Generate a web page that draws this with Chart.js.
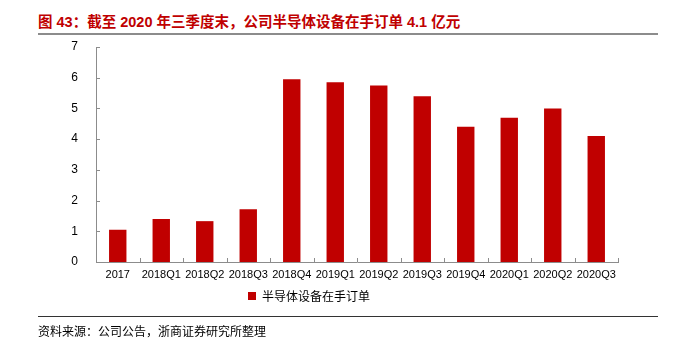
<!DOCTYPE html>
<html>
<head>
  <meta name="viewport" content="width=device-width, initial-scale=1.0">
  <title>半导体设备在手订单</title>
  <script src="https://cdn.jsdelivr.net/npm/chart.js"></script>
  <style>
    body {
      margin: 0;
      width: 674px;
      height: 352px;
      position: relative;
      background: white;
      overflow: hidden;
    }
    #title {
      position: absolute;
      left: 38px;
      top: 10px;
      font-family: "Liberation Sans", "Noto Sans CJK SC", sans-serif;
      font-weight: bold;
      font-size: 14.5px;
      color: #C00000;
    }
    #topline {
      position: absolute;
      left: 38px;
      width: 620px;
      top: 33px;
      height: 2px;
      background: #8c8c8c;
    }
    #bottomline {
      position: absolute;
      left: 38px;
      width: 620px;
      top: 316px;
      height: 1px;
      background: #333;
    }
    #source {
      position: absolute;
      left: 38px;
      top: 322px;
      font-family: "Noto Sans CJK SC", sans-serif;
      font-size: 12px;
      color: #000;
    }
    #wrap {
      position: absolute;
      left: 0;
      top: 0;
      width: 674px;
      height: 318px;
    }
  </style>
</head>
<body>
  <div id="title">图 43：截至 2020 年三季度末，公司半导体设备在手订单 4.1 亿元</div>
  <div id="topline"></div>
  <div id="wrap"><canvas id="chart"></canvas></div>
  <div id="bottomline"></div>
  <div id="source">资料来源：公司公告，浙商证券研究所整理</div>

  <script>
    // data
    const categories = ['2017', '2018Q1', '2018Q2', '2018Q3', '2018Q4', '2019Q1', '2019Q2', '2019Q3', '2019Q4', '2020Q1', '2020Q2', '2020Q3'];
    const orders = [1.05, 1.4, 1.33, 1.72, 5.95, 5.85, 5.75, 5.4, 4.4, 4.7, 5.0, 4.1];
    const seriesName = '半导体设备在手订单';

    // small inward tick marks like the original
    const innerTicks = {
      id: 'innerTicks',
      afterDraw(chart) {
        const ctx = chart.ctx;
        const x = chart.scales.x, y = chart.scales.y;
        ctx.save();
        ctx.strokeStyle = '#8c8c8c';
        ctx.lineWidth = 1;
        ctx.beginPath();
        for (let v = 0; v <= 7; v++) {
          const py = Math.round(y.getPixelForValue(v)) + 0.5;
          ctx.moveTo(x.left, py);
          ctx.lineTo(x.left + 4, py);
        }
        const step = (x.right - x.left) / categories.length;
        for (let i = 0; i <= categories.length; i++) {
          const px = Math.round(x.left + i * step) + 0.5;
          ctx.moveTo(px, y.bottom);
          ctx.lineTo(px, y.bottom - 4);
        }
        ctx.stroke();
        ctx.restore();
      }
    };

    const chart = new Chart(document.getElementById('chart'), {
      type: 'bar',
      data: {
        labels: categories,
        datasets: [{
          label: seriesName,
          data: orders,
          backgroundColor: '#C00000',
          borderWidth: 0,
          barPercentage: 0.4,
          categoryPercentage: 1.0
        }]
      },
      options: {
        responsive: true,
        maintainAspectRatio: false,
        animation: false,
        layout: {
          padding: { top: 47, right: 56, left: 0, bottom: 6 }
        },
        plugins: {
          legend: {
            position: 'bottom',
            labels: {
              boxWidth: 8,
              boxHeight: 8,
              padding: 4,
              color: '#000',
              font: { family: '"Noto Sans CJK SC", sans-serif', size: 12 }
            }
          },
          tooltip: { enabled: false }
        },
        scales: {
          x: {
            grid: { display: false, drawTicks: false },
            border: { color: '#8c8c8c', width: 1 },
            ticks: {
              color: '#000',
              padding: 6,
              maxRotation: 0,
              autoSkip: false,
              font: { family: '"Liberation Sans", Arial, sans-serif', size: 11 }
            },
            afterFit(scale) { scale.height = 24; }
          },
          y: {
            min: 0,
            max: 7,
            grid: { display: false, drawTicks: false },
            border: { color: '#8c8c8c', width: 1 },
            ticks: {
              stepSize: 1,
              color: '#000',
              padding: 18,
              font: { family: '"Liberation Sans", Arial, sans-serif', size: 12 }
            },
            afterFit(scale) { scale.width = 96; }
          }
        }
      },
      plugins: [innerTicks]
    });
  </script>
</body>
</html>
